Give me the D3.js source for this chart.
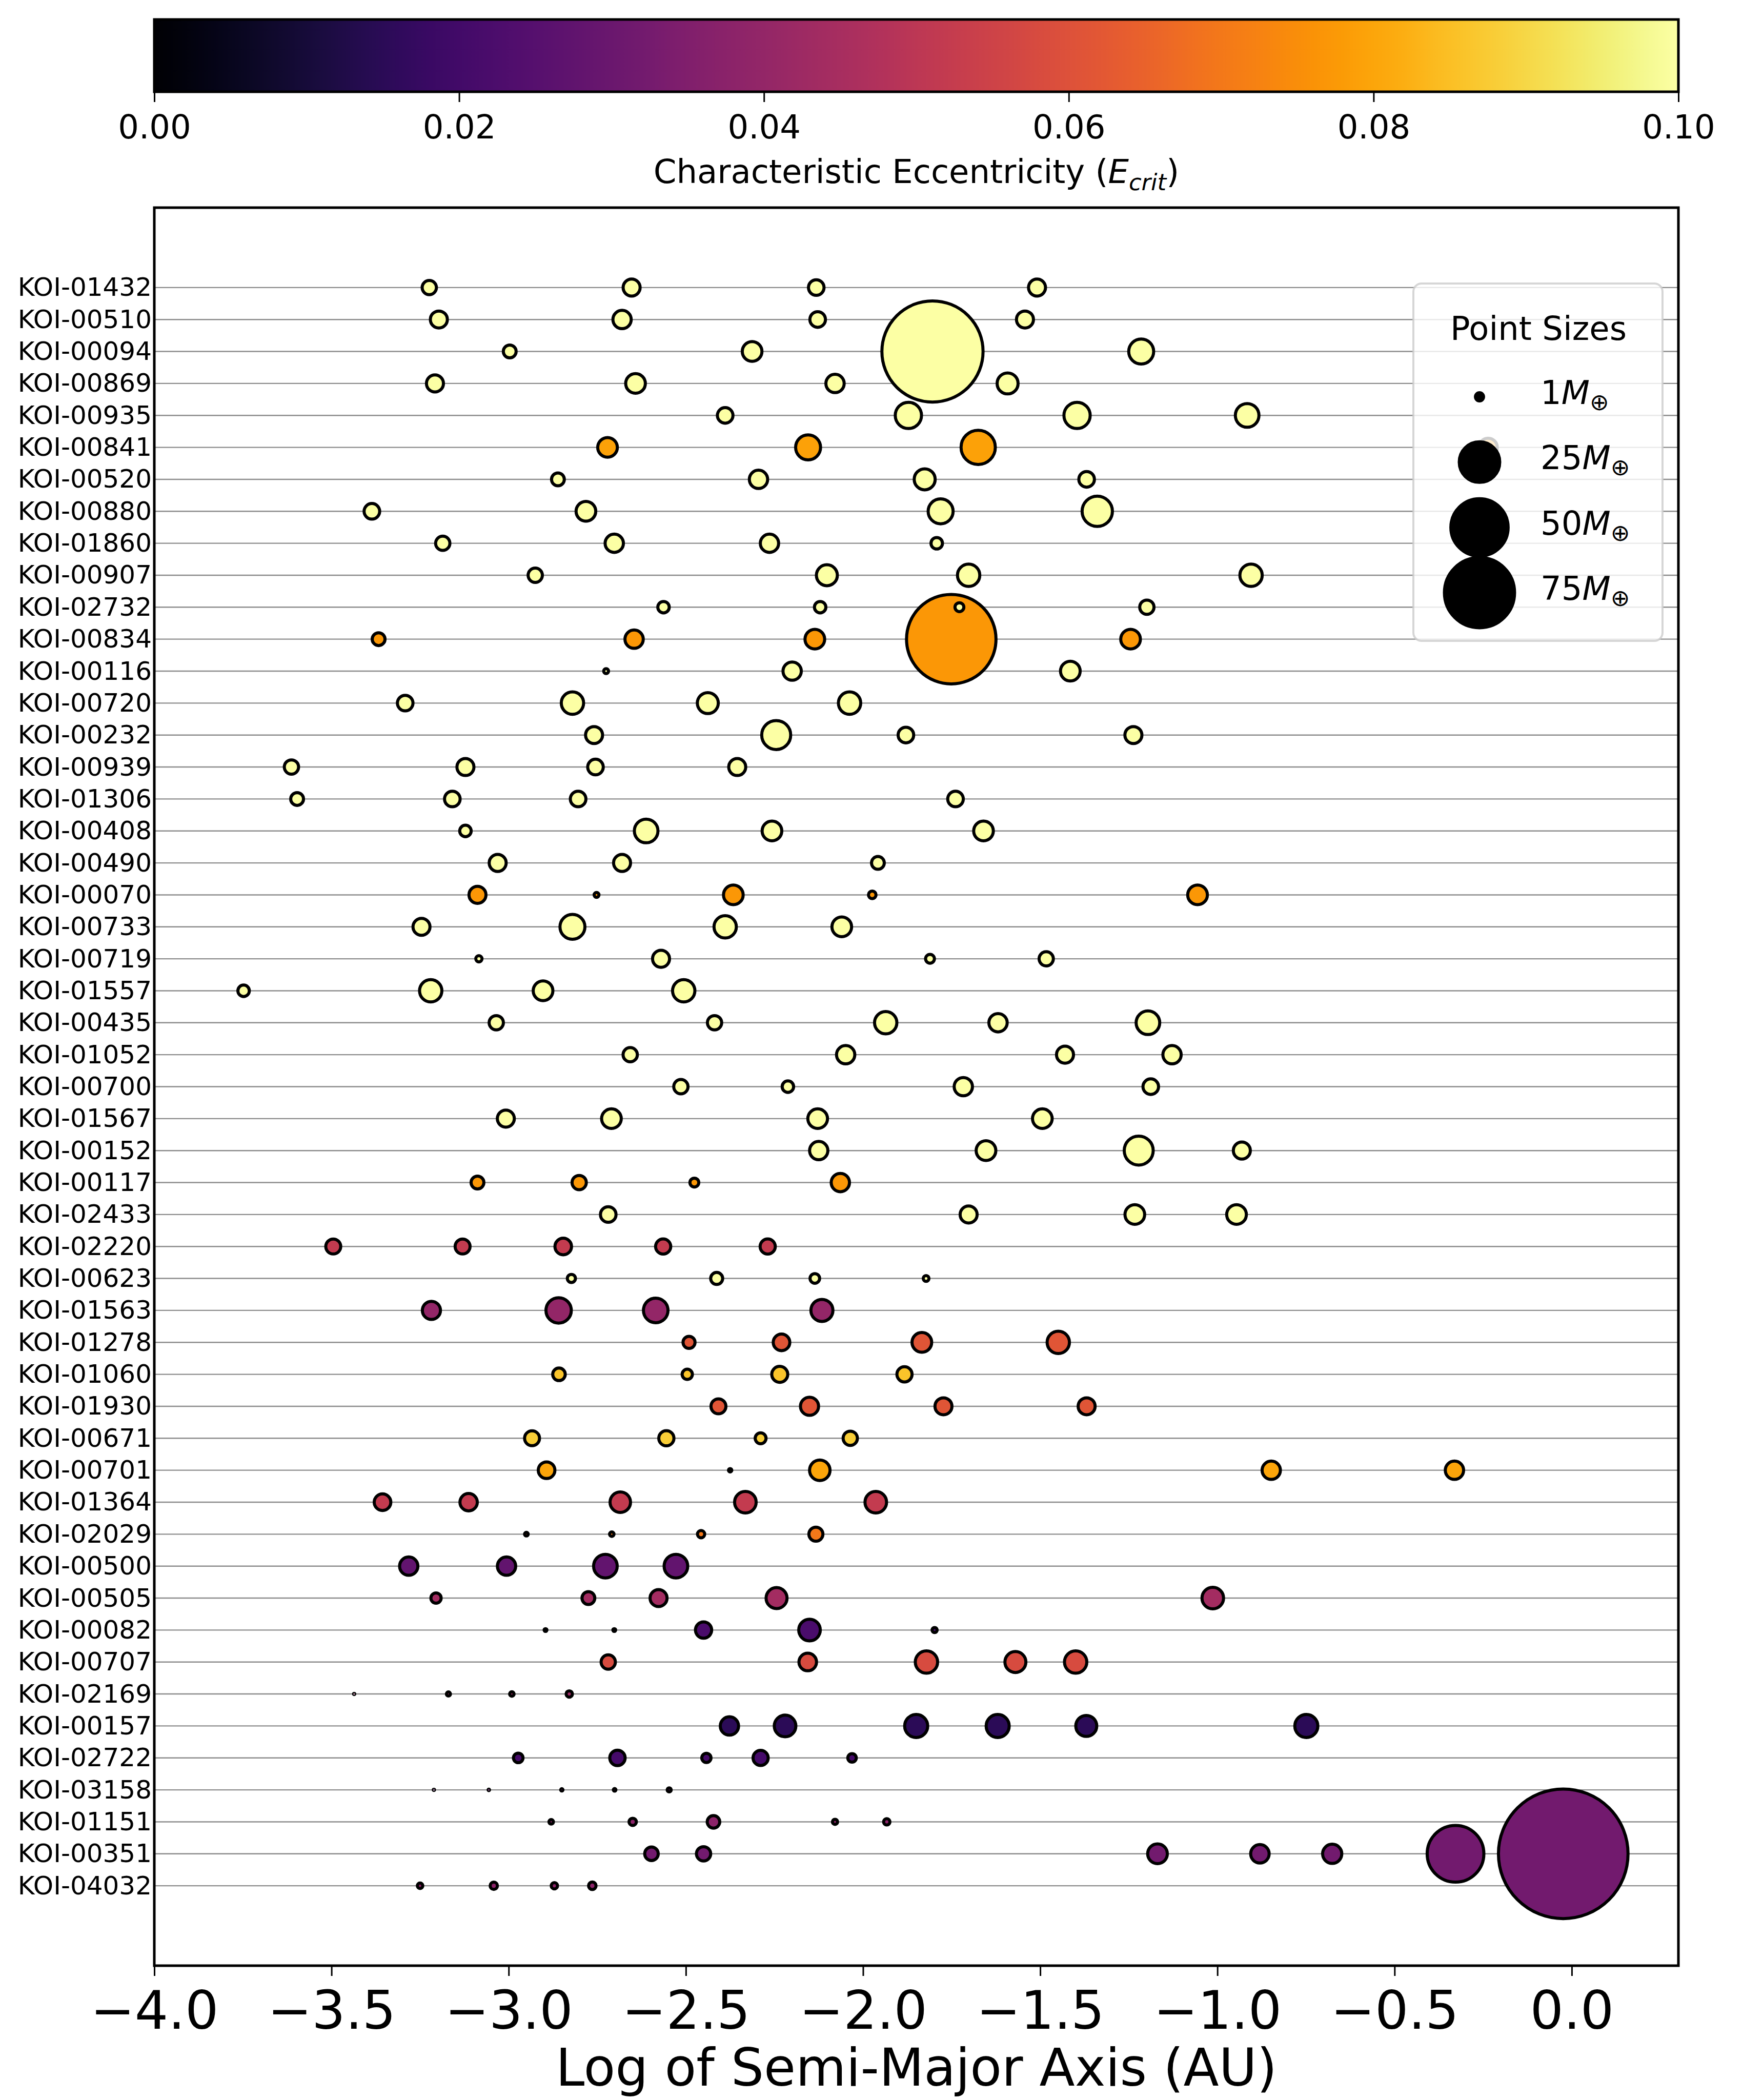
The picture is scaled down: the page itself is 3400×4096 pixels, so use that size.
<!DOCTYPE html>
<html>
<head>
<meta charset="utf-8">
<script src="https://cdn.jsdelivr.net/npm/d3@7"></script>
<style>
  body { margin: 0; background: #fff; }
  svg { display: block; font-family: "DejaVu Sans", sans-serif; }
</style>
</head>
<body>
<div id="chart"></div>
<script>
// KOI systems, top row first
const KOI_NAMES = [
  "KOI-01432", "KOI-00510", "KOI-00094", "KOI-00869", "KOI-00935", "KOI-00841",
  "KOI-00520", "KOI-00880", "KOI-01860", "KOI-00907", "KOI-02732", "KOI-00834",
  "KOI-00116", "KOI-00720", "KOI-00232", "KOI-00939", "KOI-01306", "KOI-00408",
  "KOI-00490", "KOI-00070", "KOI-00733", "KOI-00719", "KOI-01557", "KOI-00435",
  "KOI-01052", "KOI-00700", "KOI-01567", "KOI-00152", "KOI-00117", "KOI-02433",
  "KOI-02220", "KOI-00623", "KOI-01563", "KOI-01278", "KOI-01060", "KOI-01930",
  "KOI-00671", "KOI-00701", "KOI-01364", "KOI-02029", "KOI-00500", "KOI-00505",
  "KOI-00082", "KOI-00707", "KOI-02169", "KOI-00157", "KOI-02722", "KOI-03158",
  "KOI-01151", "KOI-00351", "KOI-04032"
];

// characteristic eccentricity of each system (colour)
const ECC = [
  0.1, 0.1, 0.1, 0.1, 0.1, 0.079,
  0.1, 0.1, 0.1, 0.1, 0.1, 0.077,
  0.1, 0.1, 0.1, 0.1, 0.1, 0.1,
  0.1, 0.077, 0.1, 0.1, 0.1, 0.1,
  0.1, 0.1, 0.1, 0.1, 0.077, 0.1,
  0.052, 0.1, 0.040, 0.061, 0.086, 0.061,
  0.088, 0.080, 0.052, 0.070, 0.028, 0.044,
  0.022, 0.058, 0.042, 0.015, 0.021, 0.030,
  0.038, 0.032, 0.038
];

// log10 semi-major axis (AU) of each planet, per system
const LOG_A = [
  [-3.224, -2.653, -2.132, -1.509],
  [-3.197, -2.680, -2.128, -1.543],
  [-2.997, -2.313, -1.804, -1.215],
  [-3.208, -2.642, -2.079, -1.592],
  [-2.389, -1.872, -1.396, -0.916],
  [-2.721, -2.155, -1.675, -0.236],
  [-2.861, -2.295, -1.826, -1.369],
  [-3.386, -2.782, -1.781, -1.339],
  [-3.186, -2.702, -2.264, -1.792],
  [-2.925, -2.102, -1.702, -0.905],
  [-2.563, -2.121, -1.728, -1.199],
  [-3.367, -2.646, -2.136, -1.751, -1.245],
  [-2.725, -2.200, -1.415],
  [-3.292, -2.820, -2.438, -2.038],
  [-2.759, -2.245, -1.879, -1.237],
  [-3.613, -3.122, -2.755, -2.355],
  [-3.597, -3.159, -2.804, -1.739],
  [-3.122, -2.612, -2.257, -1.660],
  [-3.031, -2.680, -1.958],
  [-3.088, -2.752, -2.366, -1.974, -1.056],
  [-3.246, -2.820, -2.389, -2.060],
  [-3.084, -2.570, -1.811, -1.483],
  [-3.748, -3.220, -2.903, -2.506],
  [-3.035, -2.419, -1.936, -1.619, -1.196],
  [-2.657, -2.049, -1.430, -1.128],
  [-2.514, -2.212, -1.717, -1.188],
  [-3.008, -2.710, -2.128, -1.494],
  [-2.125, -1.653, -1.222, -0.931],
  [-3.088, -2.801, -2.476, -2.064],
  [-2.719, -1.702, -1.233, -0.946],
  [-3.495, -3.130, -2.846, -2.564, -2.269],
  [-2.823, -2.413, -2.136, -1.822],
  [-3.218, -2.859, -2.585, -2.116],
  [-2.491, -2.230, -1.834, -1.449],
  [-2.858, -2.496, -2.235, -1.883],
  [-2.408, -2.151, -1.773, -1.369],
  [-2.934, -2.555, -2.289, -2.036],
  [-2.893, -2.375, -2.122, -0.848, -0.331],
  [-3.356, -3.113, -2.685, -2.332, -1.964],
  [-2.950, -2.709, -2.457, -2.133],
  [-3.282, -3.006, -2.727, -2.528],
  [-3.205, -2.775, -2.577, -2.244, -1.013],
  [-2.896, -2.702, -2.450, -2.151, -1.798],
  [-2.719, -2.156, -1.821, -1.570, -1.400],
  [-3.436, -3.170, -2.991, -2.829],
  [-2.377, -2.220, -1.850, -1.620, -1.370, -0.749],
  [-2.973, -2.693, -2.442, -2.289, -2.031],
  [-3.211, -3.056, -2.850, -2.701, -2.547],
  [-2.880, -2.650, -2.422, -2.079, -1.933],
  [-2.597, -2.450, -1.169, -0.880, -0.676, -0.328, -0.024],
  [-3.250, -3.042, -2.871, -2.764]
];

// planet masses (Earth masses), same layout as LOG_A
const MASS = [
  [3.1, 4.4, 3.7, 4.4],
  [4.4, 5.1, 3.7, 4.4],
  [2.5, 5.9, 156, 9.5],
  [4.4, 5.9, 5.1, 6.7],
  [3.7, 10.5, 10.5, 8.5],
  [5.9, 9.5, 17.9, 5.1],
  [2.5, 5.1, 6.7, 3.7],
  [3.7, 5.9, 9.5, 14.0],
  [3.1, 5.1, 5.1, 2.0],
  [3.1, 6.7, 7.6, 7.6],
  [2.0, 2.0, 1.2, 3.1],
  [2.5, 5.1, 5.9, 122, 5.9],
  [0.36, 5.1, 5.9],
  [3.7, 7.6, 6.7, 7.6],
  [4.4, 12.8, 3.7, 4.4],
  [3.1, 4.4, 3.7, 4.4],
  [2.5, 3.7, 3.7, 3.7],
  [2.0, 8.5, 5.9, 5.9],
  [4.4, 4.4, 2.5],
  [4.4, 0.36, 5.9, 0.87, 5.9],
  [4.4, 9.5, 7.6, 5.9],
  [0.59, 4.4, 1.2, 3.1],
  [2.0, 7.6, 5.9, 7.6],
  [3.1, 3.1, 7.6, 5.1, 8.5],
  [3.1, 5.1, 4.4, 5.1],
  [3.1, 2.0, 5.1, 3.7],
  [4.4, 5.9, 5.9, 5.9],
  [5.1, 5.9, 12.8, 4.4],
  [2.5, 3.1, 1.2, 5.1],
  [3.7, 4.4, 5.9, 5.9],
  [3.4, 3.4, 4.2, 3.5, 3.5],
  [1.0, 2.2, 1.4, 0.5],
  [5.0, 9.8, 9.2, 7.4],
  [2.2, 4.2, 5.9, 7.6],
  [2.4, 1.6, 3.9, 3.5],
  [3.4, 5.0, 4.4, 4.4],
  [3.4, 3.5, 1.8, 3.1],
  [4.2, 0.17, 6.4, 5.1, 5.1],
  [4.2, 4.6, 6.4, 7.1, 7.1],
  [0.2, 0.3, 0.8, 3.0],
  [5.1, 5.1, 8.5, 8.5],
  [1.6, 2.5, 4.4, 6.7, 7.1],
  [0.12, 0.12, 4.0, 7.1, 0.4],
  [3.1, 4.7, 7.6, 6.7, 7.6],
  [0.02, 0.25, 0.3, 0.6],
  [5.1, 7.1, 8.1, 8.1, 6.7, 8.1],
  [1.4, 3.6, 1.3, 3.5, 1.1],
  [0.02, 0.03, 0.08, 0.1, 0.25],
  [0.3, 0.8, 2.4, 0.4, 0.6],
  [2.8, 3.1, 5.9, 5.2, 5.6, 49, 256],
  [0.45, 0.8, 0.6, 0.85]
];

const X_TICKS = [-4.0, -3.5, -3.0, -2.5, -2.0, -1.5, -1.0, -0.5, 0.0];
const CBAR_TICKS = [0.00, 0.02, 0.04, 0.06, 0.08, 0.10];
const LEGEND_MASSES = [1, 25, 50, 75];

// page layout
const W = 3400, H = 4096;
const PLOT = { left: 301, right: 3274, top: 405, bottom: 3834 };
const CBAR = { top: 38, bottom: 179 };
const EDGE = 6;

const svg = d3.select("#chart").append("svg")
    .attr("width", W)
    .attr("height", H);

// scales
const x = d3.scaleLinear().domain([-4, 0.301]).range([PLOT.left, PLOT.right]);
const y = d3.scaleLinear().domain([-2.5, KOI_NAMES.length + 1.5]).range([PLOT.top, PLOT.bottom]);
const color = d3.scaleSequential(d3.interpolateInferno).domain([0, 0.1]).clamp(true);
const radius = d3.scaleSqrt().domain([0, 1]).range([0, 7.9]);

// ---- colorbar ----
const defs = svg.append("defs");
const grad = defs.append("linearGradient").attr("id", "inferno");
d3.range(0, 1.0001, 0.02).forEach(t => {
    grad.append("stop").attr("offset", t).attr("stop-color", d3.interpolateInferno(t));
});

const cx = d3.scaleLinear().domain([0, 0.1]).range([PLOT.left, PLOT.right]);
svg.append("rect")
    .attr("x", PLOT.left).attr("y", CBAR.top)
    .attr("width", PLOT.right - PLOT.left).attr("height", CBAR.bottom - CBAR.top)
    .attr("fill", "url(#inferno)")
    .attr("stroke", "#000").attr("stroke-width", 5);

const cAxis = svg.append("g")
    .attr("transform", `translate(0,${CBAR.bottom})`)
    .call(d3.axisBottom(cx).tickValues(CBAR_TICKS).tickFormat(d3.format(".2f")).tickSize(20));
cAxis.select(".domain").remove();
cAxis.selectAll(".tick line").attr("stroke-width", 3);
cAxis.selectAll(".tick text")
    .attr("font-family", "DejaVu Sans").attr("font-size", 64).attr("fill", "#000")
    .attr("y", 91).attr("dy", 0);

const cLabel = svg.append("text")
    .attr("x", (PLOT.left + PLOT.right) / 2).attr("y", 357)
    .attr("text-anchor", "middle").attr("font-size", 64);
cLabel.append("tspan").text("Characteristic Eccentricity (");
cLabel.append("tspan").attr("font-style", "italic").text("E");
cLabel.append("tspan").attr("font-style", "italic").attr("font-size", 45).attr("dy", 14).text("crit");
cLabel.append("tspan").attr("dy", -14).text(")");

// ---- main plot ----
// row grid lines
svg.append("g").selectAll("line")
    .data(KOI_NAMES)
    .join("line")
    .attr("x1", PLOT.left).attr("x2", PLOT.right)
    .attr("y1", (d, i) => y(i)).attr("y2", (d, i) => y(i))
    .attr("stroke", "#8c8c8c").attr("stroke-width", 2.4);

// planets, bottom rows drawn first
const planets = [];
KOI_NAMES.forEach((name, i) => {
    LOG_A[i].forEach((a, j) => {
        planets.push({ row: i, a: a, m: MASS[i][j], e: ECC[i] });
    });
});
planets.sort((p, q) => q.row - p.row);

svg.append("g").selectAll("circle")
    .data(planets)
    .join("circle")
    .attr("cx", d => x(d.a))
    .attr("cy", d => y(d.row))
    .attr("r", d => radius(d.m))
    .attr("fill", d => color(d.e))
    .attr("stroke", "#000")
    .attr("stroke-width", EDGE);

// y axis labels
const yAxis = svg.append("g")
    .attr("transform", `translate(${PLOT.left},0)`)
    .call(d3.axisLeft(y).tickValues(d3.range(KOI_NAMES.length))
        .tickFormat(i => KOI_NAMES[i]).tickSize(0).tickPadding(5));
yAxis.select(".domain").remove();
yAxis.selectAll(".tick text")
    .attr("font-family", "DejaVu Sans").attr("font-size", 50).attr("fill", "#000");

// x axis
const xAxis = svg.append("g")
    .attr("transform", `translate(0,${PLOT.bottom})`)
    .call(d3.axisBottom(x).tickValues(X_TICKS).tickFormat(d3.format(".1f")).tickSize(20));
xAxis.select(".domain").remove();
xAxis.selectAll(".tick line").attr("stroke-width", 3);
xAxis.selectAll(".tick text")
    .attr("font-family", "DejaVu Sans").attr("font-size", 103).attr("fill", "#000")
    .attr("y", 123).attr("dy", 0);

// pulled up a little so the descenders stay inside the window
svg.append("text")
    .attr("x", (PLOT.left + PLOT.right) / 2).attr("y", 4068)
    .attr("text-anchor", "middle").attr("font-size", 101)
    .text("Log of Semi-Major Axis (AU)");

// frame
svg.append("rect")
    .attr("x", PLOT.left).attr("y", PLOT.top)
    .attr("width", PLOT.right - PLOT.left).attr("height", PLOT.bottom - PLOT.top)
    .attr("fill", "none").attr("stroke", "#000").attr("stroke-width", 5);

// ---- size legend ----
const legend = svg.append("g");
legend.append("rect")
    .attr("x", 2757).attr("y", 553).attr("width", 486).attr("height", 697)
    .attr("rx", 16)
    .attr("fill", "#fff").attr("fill-opacity", 0.8)
    .attr("stroke", "#cccccc").attr("stroke-opacity", 0.8).attr("stroke-width", 4);

legend.append("text")
    .attr("x", 3001).attr("y", 663)
    .attr("text-anchor", "middle").attr("font-size", 64)
    .text("Point Sizes");

const ly = d3.scalePoint().domain(LEGEND_MASSES).range([774, 1156]);
const entry = legend.selectAll(".entry")
    .data(LEGEND_MASSES)
    .join("g")
    .attr("class", "entry");

entry.append("circle")
    .attr("cx", 2886).attr("cy", d => ly(d))
    .attr("r", d => radius(d))
    .attr("fill", "#000").attr("stroke", "#000").attr("stroke-width", EDGE);

const lt = entry.append("text")
    .attr("x", 3005).attr("y", d => ly(d) + 14)
    .attr("font-size", 64);
lt.append("tspan").text(d => d);
lt.append("tspan").attr("font-style", "italic").text("M");
lt.append("tspan").attr("font-size", 45).attr("dy", 12).text("\u2295");
</script>
</body>
</html>
